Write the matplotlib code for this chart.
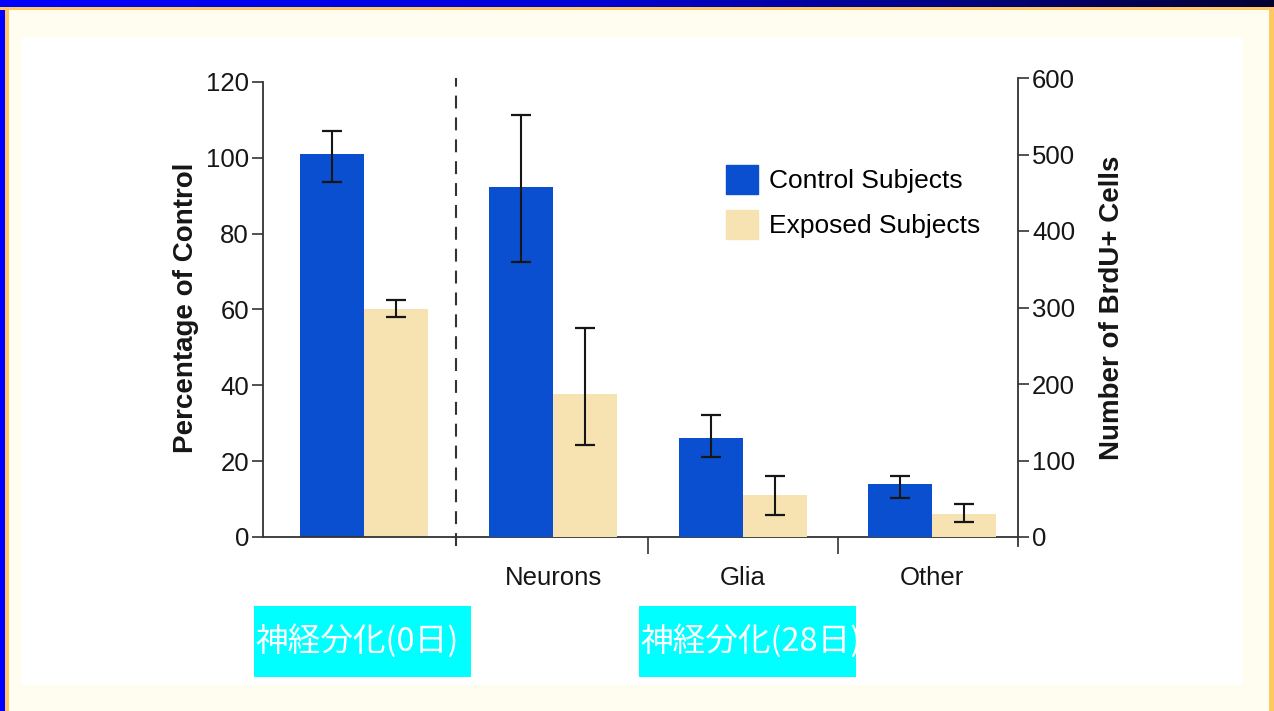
import numpy as np
import matplotlib
matplotlib.use("Agg")
import matplotlib.pyplot as plt
from matplotlib.patches import Rectangle, Patch

plt.rcParams['font.family'] = ['Liberation Sans', 'DejaVu Sans']

# day 0: percentage of control
day0_ctrl = 101
day0_exp = 60
day0_ctrl_err = (7.3, 6.1)   # (lower, upper)
day0_exp_err = (2.0, 2.5)

# day 28: number of BrdU+ cells by cell type
cell_types = ['Neurons', 'Glia', 'Other']
ctrl_cells = [457, 130, 69]
ctrl_lo = [98, 25, 18]
ctrl_hi = [95, 29, 11]
exp_cells = [187, 55, 30]
exp_lo = [67, 26, 10]
exp_hi = [86, 25, 13]

legend_labels = ['Control Subjects', 'Exposed Subjects']
box_labels = ['神経分化(0日)', '神経分化(28日)']

BLUE = '#0a4fd0'
CREAM = '#f6e3b1'
INK = '#161616'

W, H = 1274, 711
fig = plt.figure(figsize=(W / 100, H / 100), dpi=100, facecolor='#fffcf0')


def box(x0, y0, x1, y1):
    # figure-fraction rectangle from pixel corners (y measured from top)
    return [x0 / W, 1 - y1 / H, (x1 - x0) / W, (y1 - y0) / H]


def rect(x0, y0, x1, y1, color, z=0):
    l, b, w, h = box(x0, y0, x1, y1)
    r = Rectangle((l, b), w, h, transform=fig.transFigure,
                  facecolor=color, edgecolor='none', zorder=z)
    fig.add_artist(r)
    return r


# slide frame
rect(22, 38, 1242, 685, 'white', z=-5)
rect(0, 7, 5, H, '#0000ff', z=-4)
rect(0, 7, W, 10, '#ffc862', z=-4)
rect(5, 7, 9, H, '#ffc862', z=-4)
rect(1269, 7, W, H, '#ffc862', z=-4)

band = fig.add_axes(box(0, 0, W, 7))
t = np.linspace(0, 1, 512)
blue = np.interp(t, [0, 0.45, 0.75, 1], [1.0, 0.85, 0.5, 0.2])
grad = np.stack([np.zeros_like(t), np.zeros_like(t), blue], axis=-1)[None, :, :]
band.imshow(grad, aspect='auto', extent=(0, 1, 0, 1))
band.axis('off')

# main chart
ax = fig.add_axes(box(263, 78, 1018, 537))
ax.set_facecolor('none')
ax2 = ax.twinx()

x = np.arange(1, 4)
w = 0.338
ekw = dict(ecolor=INK, elinewidth=1.5, capsize=7, capthick=1.6)

ax.bar(-w / 2, day0_ctrl, w, color=BLUE,
       yerr=[[day0_ctrl_err[0]], [day0_ctrl_err[1]]], error_kw=ekw)
ax.bar(w / 2, day0_exp, w, color=CREAM,
       yerr=[[day0_exp_err[0]], [day0_exp_err[1]]], error_kw=ekw)
ax2.bar(x - w / 2, ctrl_cells, w, color=BLUE, yerr=[ctrl_lo, ctrl_hi], error_kw=ekw)
ax2.bar(x + w / 2, exp_cells, w, color=CREAM, yerr=[exp_lo, exp_hi], error_kw=ekw)

ax.set_xlim(-0.533, 3.452)
ax.set_ylim(0, 121)
ax2.set_ylim(0, 600)

for s in ['top', 'right']:
    ax.spines[s].set_visible(False)
for s in ['top', 'left', 'bottom']:
    ax2.spines[s].set_visible(False)
ax.spines['left'].set_bounds(0, 120)
ax2.spines['right'].set_bounds(-12, 600)
for sp in [ax.spines['left'], ax.spines['bottom'], ax2.spines['right']]:
    sp.set_linewidth(1.3)
    sp.set_color('#333333')

ax.set_yticks(range(0, 121, 20))
ax2.set_yticks(range(0, 601, 100))
ax.tick_params(axis='y', direction='out', length=8, width=1.2, color='#333333',
               labelsize=18.5, labelcolor=INK, pad=2)
ax2.tick_params(axis='y', direction='out', length=8, width=1.2, color='#333333',
                labelsize=18.5, labelcolor=INK, pad=2)

ax.set_xticks([1.5, 2.5])
ax.set_xticklabels([])
ax.tick_params(axis='x', which='major', direction='out', length=12, width=1.2, color='#333333')
ax.set_xticks(x, minor=True)
ax.set_xticklabels(cell_types, minor=True)
ax.tick_params(axis='x', which='minor', length=0, pad=21, labelsize=18.5, labelcolor=INK)

ax.axvline(0.486, ymin=-0.02, ymax=1.0, color='#333333', lw=1.5,
           dashes=(6.2, 4.3), clip_on=False)

ax.set_ylabel('Percentage of Control', fontsize=20, fontweight='bold', color=INK, labelpad=5)
ax2.set_ylabel('Number of BrdU+ Cells', fontsize=20, fontweight='bold', color=INK,
               rotation=90, labelpad=17)

ax.legend(handles=[Patch(color=BLUE), Patch(color=CREAM)], labels=legend_labels,
          loc='upper left', bbox_to_anchor=(726 / W, 1 - 165 / H),
          bbox_transform=fig.transFigure, frameon=False, fontsize=19,
          handlelength=1.2, handleheight=1.3, handletextpad=0.42,
          labelspacing=0.62, borderpad=0, borderaxespad=0)

# cyan caption boxes
for label, x0 in zip(box_labels, [254, 639]):
    r = rect(x0, 606, x0 + 217, 677, '#00ffff', z=2)
    txt = fig.text((x0 + 1) / W, 1 - 641.5 / H, label, color='white', fontsize=23.5,
                   family=['Noto Sans CJK JP', 'DejaVu Sans'], va='center', ha='left', zorder=3)
    txt.set_clip_path(r)

fig.savefig('out.png', dpi=100, facecolor=fig.get_facecolor())
